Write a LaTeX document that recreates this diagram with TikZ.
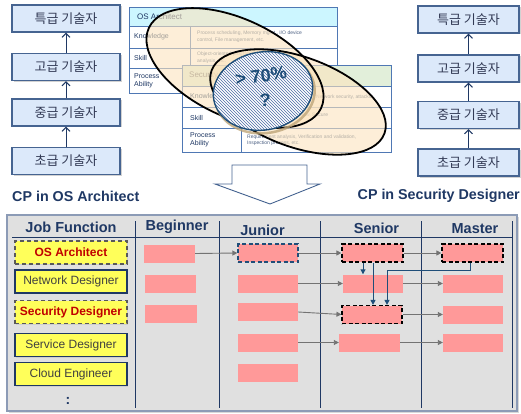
\documentclass[tikz,border=0pt]{standalone}
\usepackage{fontspec}
\setmainfont{Liberation Sans}
\newfontfamily\kr{Noto Sans CJK KR}
\usetikzlibrary{shadows,patterns,arrows.meta,calc}
\definecolor{navy}{RGB}{31,56,100}
\definecolor{ladfill}{RGB}{220,233,250}
\definecolor{ladborder}{RGB}{70,100,145}
\definecolor{ladtext}{RGB}{50,58,85}
\definecolor{tblblue}{RGB}{79,120,180}
\definecolor{oscyan}{RGB}{204,246,255}
\definecolor{secgreen}{RGB}{226,239,218}
\definecolor{peach}{RGB}{252,228,190}
\definecolor{hatchblue}{RGB}{75,108,165}
\definecolor{darkblue}{RGB}{31,78,121}
\definecolor{tan1}{RGB}{190,165,120}
\definecolor{panelgray}{RGB}{224,224,224}
\definecolor{panelborder}{RGB}{140,155,182}
\definecolor{jfyellow}{RGB}{255,255,90}
\definecolor{jfred}{RGB}{192,0,0}
\definecolor{pink1}{RGB}{255,153,153}
\definecolor{gray1}{RGB}{115,115,115}
\begin{document}
\begin{tikzpicture}[x=1pt,y=-1pt,
  ladder/.style={draw=ladborder, fill=ladfill, line width=1.2pt, minimum width=108pt, minimum height=27pt, inner sep=0pt,
    font=\kr\fontsize{13}{15}\selectfont, text=ladtext,
    drop shadow={shadow xshift=1.5pt, shadow yshift=-1.5pt, fill=black!35}},
  ladarrow/.style={-{Straight Barb[length=4pt,width=8pt]}, draw=navy, line width=1pt},
  tbl/.style={draw=tblblue, line width=0.8pt},
  tlabel/.style={anchor=west, inner sep=0pt, font=\fontsize{7}{8}\selectfont, text=navy, align=left},
  tcont/.style={anchor=west, inner sep=0pt, font=\fontsize{5}{6.5}\selectfont, text=navy!80, align=left},
  bigell/.style={draw=black, line width=1.8pt},
  hdr/.style={font=\bfseries\fontsize{14.5}{16}\selectfont, text=navy, inner sep=0pt},
  cplabel/.style={font=\bfseries\fontsize{14.3}{16}\selectfont, text=navy, inner sep=0pt},
  jf/.style={fill=jfyellow, minimum width=112pt, minimum height=23pt, inner sep=0pt,
    drop shadow={shadow xshift=1pt, shadow yshift=-1pt, fill=black!25}},
  jfsolid/.style={jf, draw=navy, line width=1.2pt, text=black!75, font=\fontsize{12}{14}\selectfont},
  jfdash/.style={jf, draw=black!65, line width=1.5pt, dash pattern=on 4pt off 3pt, text=jfred, font=\bfseries\fontsize{12}{14}\selectfont},
  pk/.style={fill=pink1, inner sep=0pt, minimum height=18pt},
  pkdash/.style={pk, draw=black, line width=1.2pt, dash pattern=on 4pt off 2.5pt},
  pkdashblue/.style={pk, draw=darkblue, line width=1.2pt, dash pattern=on 4pt off 2.5pt},
  garrow/.style={-{Triangle[length=5pt,width=5pt]}, draw=gray1, line width=0.9pt},
  barrow/.style={-{Triangle[length=5pt,width=5pt]}, draw=darkblue, line width=1pt}
]
\useasboundingbox (0,0) rectangle (521,414);

% ---------- left ladder ----------
\node[ladder] (l1) at (66,18.5) {특급 기술자};
\node[ladder] (l2) at (66,67) {고급 기술자};
\node[ladder] (l3) at (66,112.5) {중급 기술자};
\node[ladder] (l4) at (66,161) {초급 기술자};
\draw[ladarrow] (l4) -- (l3);
\draw[ladarrow] (l3) -- (l2);
\draw[ladarrow] (l2) -- (l1);

% ---------- right ladder ----------
\node[ladder, minimum width=101pt] (r1) at (468.5,19.5) {특급 기술자};
\node[ladder, minimum width=101pt] (r2) at (468.5,68.5) {고급 기술자};
\node[ladder, minimum width=101pt] (r3) at (468.5,115) {중급 기술자};
\node[ladder, minimum width=101pt] (r4) at (468.5,162.5) {초급 기술자};
\draw[ladarrow] (r4) -- (r3);
\draw[ladarrow] (r3) -- (r2);
\draw[ladarrow] (r2) -- (r1);

% ---------- OS Architect table ----------
\fill[white] (129,7) rectangle (337,93);
\fill[oscyan] (129,7) rectangle (337,26);
\draw[tbl] (129,7) rectangle (337,93);
\draw[tbl] (129,26) -- (337,26) (129,48) -- (337,48) (129,68) -- (337,68) (190,26) -- (190,93);
\node[tlabel, font=\fontsize{8}{9}\selectfont] (osh) at (137,17) {OS Architect};
\node[tlabel] (osk) at (134,37) {Knowledge};
\node[tlabel] (oss) at (134,58) {Skill};
\node[tlabel] (osp) at (134,80.5) {Process\\Ability};
\node[tcont] (osk2) at (197,36.5) {Process scheduling, Memory mgmt., I/O device\\control, File management, etc.};
\node[tcont] (oss2) at (197,57.5) {Object-oriented programming, Trade-off\\analysis, etc.};

% ---------- Security Designer table ----------
\fill[white] (182,65) rectangle (391,152);
\fill[secgreen] (182,65) rectangle (391,86);
\draw[tbl] (182,65) rectangle (391,152);
\draw[tbl] (182,86) -- (391,86) (182,107) -- (391,107) (182,128) -- (391,128) (241,86) -- (241,152);
\node[tlabel, font=\fontsize{8}{9}\selectfont, text=black!55] (sech) at (189,75.5) {Security};
\node[tlabel] (seck) at (190,97) {Knowledge};
\node[tlabel] (secs) at (190,118) {Skill};
\node[tlabel] (secp) at (190,140) {Process\\Ability};
\node[tcont] (seck2) at (316,97) {Network security, attacks};
\node[tcont] (secs2) at (247,118) {Secure coding, Code review, Secure\\design, etc.};
\node[tcont] (secp2) at (247,140) {Requirement analysis, Verification and validation,\\Inspection process, etc.};

% ---------- ellipses ----------
\fill[peach, opacity=0.6, rotate around={-25:(235,68)}] (235,68) ellipse [x radius=95, y radius=49];
\fill[peach, opacity=0.6, rotate around={-20:(298,102)}] (298,102) ellipse [x radius=92, y radius=45];
\draw[bigell, rotate around={-25:(235,68)}] (235,68) ellipse [x radius=95, y radius=49];
\draw[bigell, rotate around={-20:(298,102)}] (298,102) ellipse [x radius=92, y radius=45];
% hatched intersection
\draw[tan1, line width=2.5pt, opacity=0.8, rotate around={10:(265,94)}] (265,94) ellipse [x radius=50, y radius=39];
\fill[white, rotate around={10:(263,91)}] (263,91) ellipse [x radius=50, y radius=39];
\fill[pattern=north west lines, pattern color=hatchblue, rotate around={10:(263,91)}] (263,91) ellipse [x radius=50, y radius=39];
\draw[darkblue, line width=1.4pt, rotate around={10:(263,91)}] (263,91) ellipse [x radius=50, y radius=39];
\node[font=\bfseries\fontsize{18}{20}\selectfont, text=darkblue, rotate=8, inner sep=0pt] (pct) at (261,76) {> 70\%};
\node[font=\bfseries\fontsize{18}{20}\selectfont, text=darkblue, inner sep=0pt] (qm) at (265,100) {?};

% ---------- big down arrow ----------
\draw[draw=ladborder, fill=white, line width=0.9pt, line join=miter]
  (232,165) -- (307,165) -- (307,184) -- (320,184) -- (270,204) -- (215,184) -- (232,184) -- cycle;

% ---------- CP labels ----------
\node[cplabel, anchor=west] (cpos) at (12,196) {CP in OS Architect};
\node[cplabel, anchor=east] (cpsec) at (520,196) {CP in Security Designer};

% ---------- bottom panel ----------
\draw[fill=panelgray, draw=panelborder, line width=1.5pt,
  drop shadow={shadow xshift=1.5pt, shadow yshift=-1.5pt, fill=black!30}] (7,215) rectangle (517,411);
\draw[navy, line width=0.8pt] (12,237) -- (512,237);
\foreach \xx in {135,219,320,421,512} { \draw[navy, line width=0.8pt] (\xx,221) -- (\xx,408); }
\node[hdr] (hjf) at (71,227) {Job Function};
\node[hdr] (hbeg) at (177,227) {Beginner};
\node[hdr] (hjun) at (262.5,230) {Junior};
\node[hdr] (hsen) at (376.5,228.5) {Senior};
\node[hdr] (hmas) at (475,228.5) {Master};

% job functions
\node[jfdash] (jf1) at (71,252.5) {OS Architect};
\node[jfsolid] (jf2) at (71,281.5) {Network Designer};
\node[jfdash] (jf3) at (71,312) {Security Designer};
\node[jfsolid] (jf4) at (71,345) {Service Designer};
\node[jfsolid] (jf5) at (71,374) {Cloud Engineer};
\node[font=\bfseries\fontsize{14}{16}\selectfont, text=navy, inner sep=0pt] (dots) at (68,401) {:};

% pink boxes
\node[pk, minimum width=51pt] (b1) at (169.5,253.5) {};
\node[pk, minimum width=51pt] (b2) at (170.5,284) {};
\node[pk, minimum width=52pt] (b3) at (171,314) {};
\node[pkdashblue, minimum width=60pt] (j1) at (268,253) {};
\node[pk, minimum width=60pt] (j2) at (268,283.5) {};
\node[pk, minimum width=60pt] (j3) at (268,312) {};
\node[pk, minimum width=60pt] (j4) at (268,342.5) {};
\node[pk, minimum width=60pt] (j5) at (268,373) {};
\node[pkdash, minimum width=61pt] (s1) at (372.5,253) {};
\node[pk, minimum width=60pt] (s2) at (373,283.5) {};
\node[pkdash, minimum width=60pt] (s3) at (372,314.5) {};
\node[pk, minimum width=61pt] (s4) at (369.5,342.5) {};
\node[pkdash, minimum width=61pt] (m1) at (472.5,253) {};
\node[pk, minimum width=60pt] (m2) at (473,283.5) {};
\node[pk, minimum width=60pt] (m3) at (473,314.5) {};
\node[pk, minimum width=60pt] (m4) at (473,342.5) {};

% gray arrows
\draw[garrow] (b1.east) -- (j1.west);
\draw[garrow] (j1.east) -- (s1.west);
\draw[garrow] (s1.east) -- (m1.west);
\draw[garrow] (j2.east) -- (s2.west);
\draw[garrow] (s2.east) -- (m2.west);
\draw[garrow] (j3.east) -- (s3.west);
\draw[garrow] (s3.east) -- (m3.west);
\draw[garrow] (j4.east) -- (s4.west);
\draw[garrow] (s4.east) -- (m4.west);

% blue arrows
\draw[barrow] ([xshift=-9.5pt]s1.south) -- ([xshift=-9.5pt]s1.south |- s2.north);
\draw[barrow] ([xshift=0.5pt]s1.south) -- ([xshift=0.5pt]s1.south |- s3.north);
\coordinate (mc1) at ($(m1.south)+(-2.5,0)$);
\coordinate (mc2) at (mc1 |- 0,270);
\coordinate (mc3) at (387,270);
\draw[barrow] (mc1) -- (mc2) -- (mc3) -- (mc3 |- s3.north);
\end{tikzpicture}
\end{document}
